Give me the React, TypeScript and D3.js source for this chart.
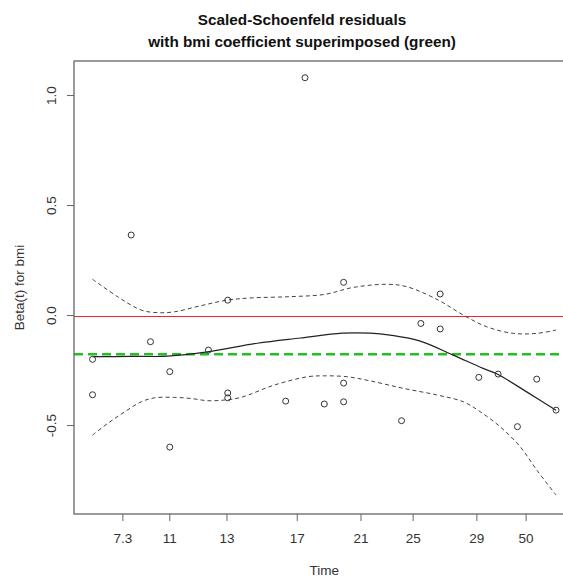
import React from "react";
import * as d3 from "d3";

// x in Kaplan-Meier-transformed rank units (0..24), y = scaled Schoenfeld residual
const pointX = [0, 0, 2, 3, 4, 4, 6, 7, 7, 7, 10, 11, 12, 13, 13, 13, 16, 17, 18, 18, 20, 21, 22, 23, 24];
const pointY = [-0.199, -0.36, 0.366, -0.119, -0.255, -0.598, -0.157, 0.07, -0.352, -0.374, -0.389, 1.081, -0.402, 0.151, -0.307, -0.392, -0.478, -0.036, 0.098, -0.061, -0.281, -0.266, -0.505, -0.289, -0.43];

const fitX = [0, 1.97, 3.88, 5.95, 8.53, 10.76, 12.93, 14.38, 15.41, 16.97, 18.67, 20.22, 20.95, 22.5, 24];
const fitY = [-0.187, -0.186, -0.184, -0.165, -0.126, -0.102, -0.08, -0.08, -0.089, -0.116, -0.18, -0.24, -0.266, -0.348, -0.43];

const upperX = [0, 1.31, 2.52, 3.38, 4.24, 5.62, 6.97, 8.21, 10.28, 12.0, 13.51, 15.24, 16.28, 17.91, 19.2, 20.41, 21.79, 23.0, 24];
const upperY = [0.165, 0.085, 0.025, 0.013, 0.017, 0.045, 0.07, 0.08, 0.086, 0.096, 0.128, 0.142, 0.131, 0.07, 0.002, -0.051, -0.081, -0.081, -0.066];

const lowerX = [0, 0.79, 1.66, 2.52, 3.21, 4.24, 5.1, 5.96, 6.83, 7.69, 9.41, 11.14, 12.0, 13.17, 14.38, 16.1, 17.83, 19.2, 20.07, 21.1, 22.14, 23.0, 24];
const lowerY = [-0.543, -0.49, -0.438, -0.392, -0.374, -0.372, -0.377, -0.387, -0.384, -0.372, -0.316, -0.278, -0.274, -0.278, -0.297, -0.331, -0.361, -0.392, -0.437, -0.505, -0.596, -0.702, -0.816];

const xTickPos = [1.57, 4.0, 6.96, 10.6, 13.9, 16.6, 19.9, 22.45];
const xTickLabels = ["7.3", "11", "13", "17", "21", "25", "29", "50"];
const yTicks = [-0.5, 0.0, 0.5, 1.0];

const coefficient = -0.176;
const nullLine = 0;

const W = 563;
const H = 577;
const left = 74;
const right = 574.6;
const top = 61;
const bottom = 514;
const font = "'Liberation Sans', Arial, sans-serif";

export default function App() {
  const x = d3.scaleLinear().domain([-0.96, 24.96]).range([left, right]);
  const y = d3.scaleLinear().domain([-0.902, 1.157]).range([bottom, top]);

  const line = d3
    .line<[number, number]>()
    .x((d) => x(d[0]))
    .y((d) => y(d[1]))
    .curve(d3.curveCatmullRom.alpha(0.5));

  const zip = (a: number[], b: number[]) => a.map((v, i) => [v, b[i]] as [number, number]);

  const titleX = 302;

  return (
    <svg
      width={W}
      height={H}
      style={{ position: "absolute", left: 0, top: 0, background: "#fff" }}
      fontFamily={font}
    >
      <rect x={0} y={0} width={W} height={H} fill="#fff" />
      {/* title */}
      <text x={titleX} y={25} textAnchor="middle" fontWeight="bold" fontSize={15.3} fill="#111">
        Scaled-Schoenfeld residuals
      </text>
      <text x={titleX} y={47} textAnchor="middle" fontWeight="bold" fontSize={15.3} fill="#111">
        with bmi coefficient superimposed (green)
      </text>

      {/* reference lines */}
      <line
        x1={left}
        x2={right}
        y1={Math.round(y(nullLine)) + 0.5}
        y2={Math.round(y(nullLine)) + 0.5}
        stroke="#ff2020"
        strokeWidth={1}
      />
      <line
        x1={left}
        x2={right}
        y1={y(coefficient)}
        y2={y(coefficient)}
        stroke="#22c022"
        strokeWidth={2.6}
        strokeDasharray="9,5"
      />

      {/* CI curves */}
      <path d={line(zip(upperX, upperY)) || ""} fill="none" stroke="#444" strokeWidth={1} strokeDasharray="4,3" />
      <path d={line(zip(lowerX, lowerY)) || ""} fill="none" stroke="#444" strokeWidth={1} strokeDasharray="4,3" />
      {/* fitted curve */}
      <path d={line(zip(fitX, fitY)) || ""} fill="none" stroke="#222" strokeWidth={1.2} />

      {/* points */}
      {pointX.map((px, i) => (
        <circle key={i} cx={x(px)} cy={y(pointY[i])} r={3} fill="none" stroke="#333" strokeWidth={1} />
      ))}

      {/* box */}
      <rect x={left} y={top} width={right - left} height={bottom - top} fill="none" stroke="#666" strokeWidth={1.3} />

      {/* y axis */}
      {yTicks.map((t) => (
        <g key={t}>
          <line x1={left - 7} x2={left} y1={y(t)} y2={y(t)} stroke="#666" strokeWidth={1} />
          <text
            transform={`translate(${56},${y(t)}) rotate(-90)`}
            textAnchor="middle"
            fontSize={13.5}
            fill="#333"
          >
            {t.toFixed(1)}
          </text>
        </g>
      ))}
      <text
        transform={`translate(${24},${(top + bottom) / 2}) rotate(-90)`}
        textAnchor="middle"
        fontSize={13.5}
        fill="#333"
      >
        Beta(t) for bmi
      </text>

      {/* x axis */}
      {xTickPos.map((t, i) => (
        <g key={i}>
          <line x1={x(t)} x2={x(t)} y1={bottom} y2={bottom + 7} stroke="#666" strokeWidth={1} />
          <text x={x(t)} y={543} textAnchor="middle" fontSize={13.5} fill="#333">
            {xTickLabels[i]}
          </text>
        </g>
      ))}
      <text x={(left + right) / 2} y={575} textAnchor="middle" fontSize={13.5} fill="#333">
        Time
      </text>
    </svg>
  );
}
